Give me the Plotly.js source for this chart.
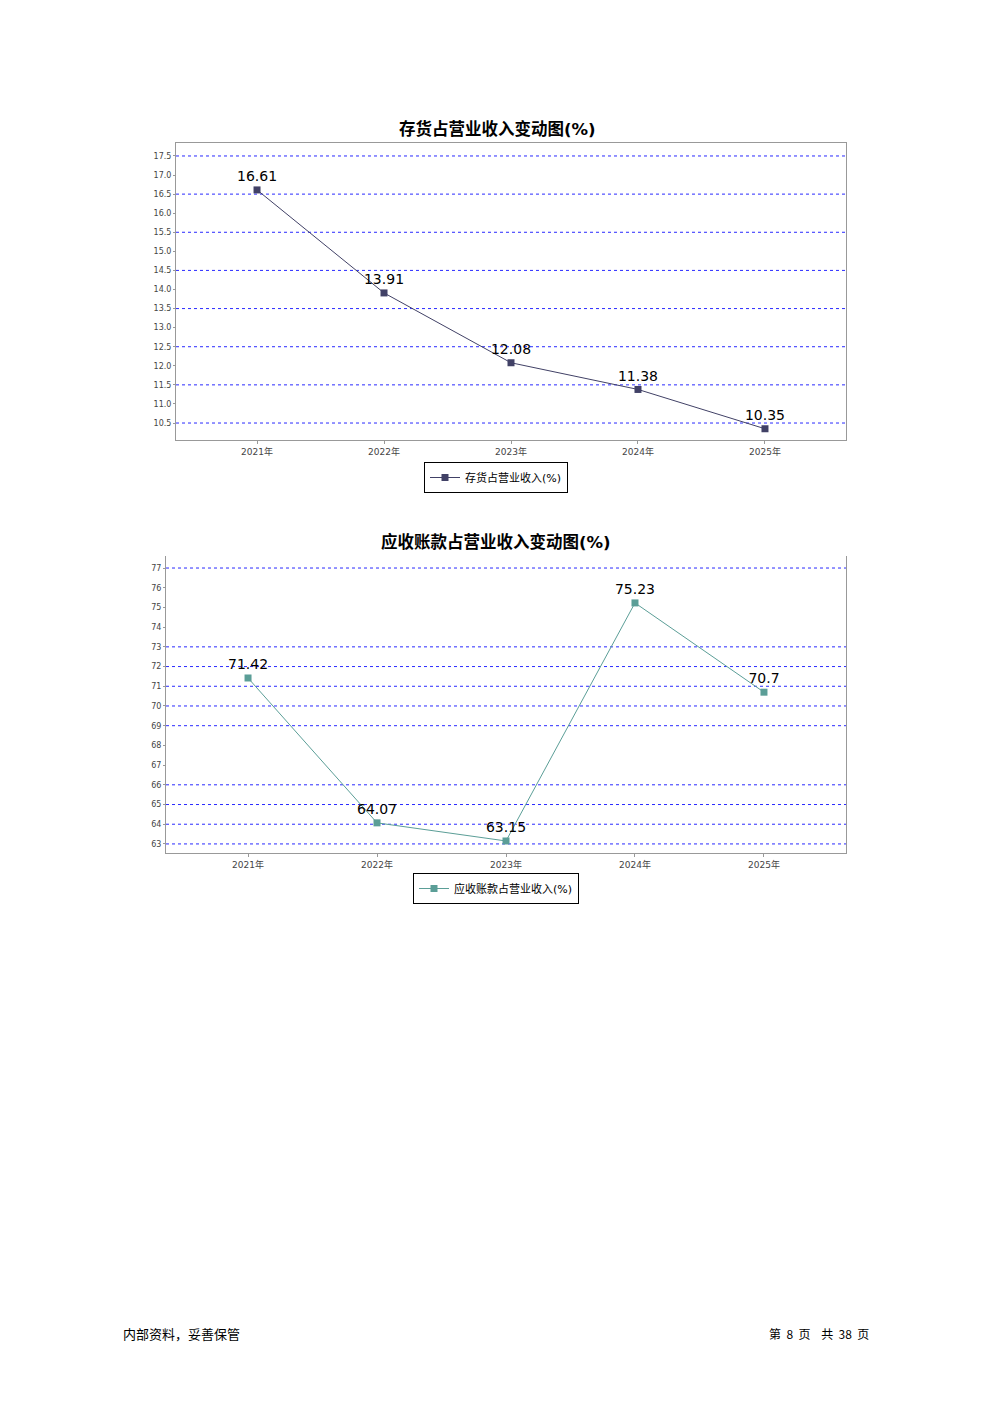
<!DOCTYPE html>
<html>
<head>
<meta charset="utf-8">
<script src="https://cdn.plot.ly/plotly-3.0.1.min.js"></script>
<style>
html,body{margin:0;padding:0;background:#fff;}
#chart{width:992px;height:1403px;}
</style>
</head>
<body>
<div id="chart"></div>
<script>
// ---- data ----
const years = ["2021年", "2022年", "2023年", "2024年", "2025年"];
const inventoryRatio = [16.61, 13.91, 12.08, 11.38, 10.35];
const receivableRatio = [71.42, 64.07, 63.15, 75.23, 70.7];
const inventoryTicks = [10.5, 11.0, 11.5, 12.0, 12.5, 13.0, 13.5, 14.0, 14.5, 15.0, 15.5, 16.0, 16.5, 17.0, 17.5];
const inventoryGrid = [10.5, 11.5, 12.5, 13.5, 14.5, 15.5, 16.5, 17.5];
const receivableTicks = [63, 64, 65, 66, 67, 68, 69, 70, 71, 72, 73, 74, 75, 76, 77];
const receivableGrid = [63, 64, 65, 66, 69, 70, 71, 72, 73, 77];
const title1 = "存货占营业收入变动图(%)";
const title2 = "应收账款占营业收入变动图(%)";
const seriesName1 = "存货占营业收入(%)";
const seriesName2 = "应收账款占营业收入(%)";
const footerLeft = "内部资料，妥善保管";
const footerRight = "第&nbsp;&nbsp;8&nbsp;&nbsp;页&nbsp;&nbsp;&nbsp;&nbsp;共&nbsp;&nbsp;38&nbsp;&nbsp;页";

const FONT = "DejaVu Sans, Noto Sans CJK SC, sans-serif";
const W = 992, H = 1403;
const px = v => v / W;
const py = v => 1 - v / H;

const c1 = "#414166";
const c2 = "#5b9e97";

const traces = [
  {
    x: years, y: inventoryRatio, name: seriesName1, type: "scatter",
    mode: "lines+markers+text", xaxis: "x", yaxis: "y", legend: "legend",
    line: {color: c1, width: 1},
    marker: {symbol: "square", size: 7, color: c1},
    text: inventoryRatio.map(String), textposition: "top center",
    textfont: {family: FONT, size: 14, color: "#000"},
    cliponaxis: false, hoverinfo: "x+y"
  },
  {
    x: years, y: receivableRatio, name: seriesName2, type: "scatter",
    mode: "lines+markers+text", xaxis: "x2", yaxis: "y2", legend: "legend2",
    line: {color: c2, width: 1},
    marker: {symbol: "square", size: 7, color: c2},
    text: receivableRatio.map(String), textposition: "top center",
    textfont: {family: FONT, size: 14, color: "#000"},
    cliponaxis: false, hoverinfo: "x+y"
  }
];

const gridShapes = [];
inventoryGrid.forEach(v => gridShapes.push({
  type: "line", xref: "x domain", yref: "y", x0: 0, x1: 1, y0: v, y1: v,
  line: {color: "#2a2aff", width: 1, dash: "dot"}, layer: "below"
}));
receivableGrid.forEach(v => gridShapes.push({
  type: "line", xref: "x2 domain", yref: "y2", x0: 0, x1: 1, y0: v, y1: v,
  line: {color: "#2a2aff", width: 1, dash: "dot"}, layer: "below"
}));

const axisCommon = {
  showline: true, linecolor: "#999", linewidth: 1, showgrid: false, zeroline: false,
  ticks: "outside", ticklen: 3, tickcolor: "#999",
  tickfont: {family: FONT, size: 9, color: "#444"}, fixedrange: true
};

const layout = {
  width: W, height: H,
  margin: {l: 0, r: 0, t: 0, b: 0},
  paper_bgcolor: "#fff", plot_bgcolor: "#fff",
  font: {family: FONT},
  showlegend: true,
  xaxis: Object.assign({}, axisCommon, {
    domain: [px(176), px(846)], anchor: "y", type: "category",
    range: [-0.638, 4.638], mirror: true
  }),
  yaxis: Object.assign({}, axisCommon, {
    domain: [py(440), py(143)], anchor: "x",
    range: [10.055, 17.84], tickvals: inventoryTicks,
    ticktext: inventoryTicks.map(v => v.toFixed(1)), mirror: true, ticklen: 2,
    tickfont: {family: FONT, size: 8, color: "#444"}
  }),
  xaxis2: Object.assign({}, axisCommon, {
    domain: [px(166), px(846)], anchor: "y2", type: "category",
    range: [-0.636, 4.636], mirror: false
  }),
  yaxis2: Object.assign({}, axisCommon, {
    domain: [py(853), py(556)], anchor: "x2",
    range: [62.54, 77.61], tickvals: receivableTicks,
    ticktext: receivableTicks.map(String), mirror: true, ticklen: 2,
    tickfont: {family: FONT, size: 8, color: "#444"}
  }),
  legend: {
    x: 0.5, xanchor: "center", y: py(462), yanchor: "top",
    orientation: "h", bgcolor: "#fff", bordercolor: "#000", borderwidth: 1,
    font: {family: FONT, size: 11, color: "#000"}, itemwidth: 30
  },
  legend2: {
    x: 0.5, xanchor: "center", y: py(873), yanchor: "top",
    orientation: "h", bgcolor: "#fff", bordercolor: "#000", borderwidth: 1,
    font: {family: FONT, size: 11, color: "#000"}, itemwidth: 30
  },
  shapes: gridShapes,
  annotations: [
    {text: "<b>" + title1 + "</b>", xref: "paper", yref: "paper", x: px(497), y: py(129),
     xanchor: "center", yanchor: "middle", showarrow: false,
     font: {family: FONT, size: 16.5, color: "#000"}},
    {text: "<b>" + title2 + "</b>", xref: "paper", yref: "paper", x: px(496), y: py(542),
     xanchor: "center", yanchor: "middle", showarrow: false,
     font: {family: FONT, size: 16.5, color: "#000"}},
    {text: footerLeft, xref: "paper", yref: "paper", x: px(121), y: py(1333),
     xanchor: "left", yanchor: "middle", showarrow: false,
     font: {family: "Noto Sans CJK SC, sans-serif", size: 13, color: "#000"}},
    {text: footerRight, xref: "paper", yref: "paper", x: px(871), y: py(1333),
     xanchor: "right", yanchor: "middle", showarrow: false,
     font: {family: "Noto Sans CJK SC, Liberation Serif, serif", size: 12, color: "#000"}}
  ]
};

Plotly.newPlot("chart", traces, layout, {displayModeBar: false, staticPlot: true});
</script>
</body>
</html>
